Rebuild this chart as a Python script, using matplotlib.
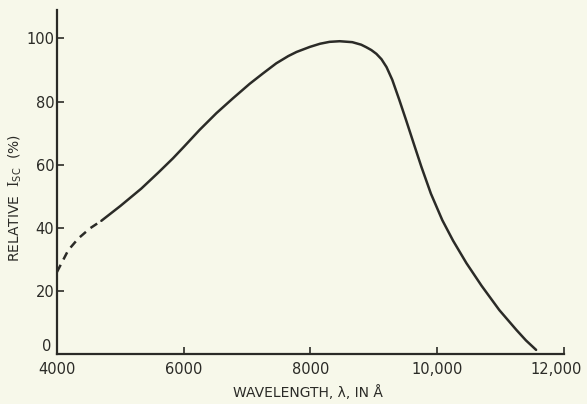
import matplotlib
matplotlib.use("Agg")
import matplotlib.pyplot as plt
from matplotlib.transforms import ScaledTranslation

# spectral response; the short-wavelength end is extrapolated (dashed)
wl_dashed = [4000, 4090, 4178, 4336, 4520, 4700]
isc_dashed = [26.0, 29.5, 32.9, 36.6, 39.8, 42.2]

wl_solid = [4700, 5000, 5330, 5600, 5830, 6000, 6250, 6515, 6770, 7040,
            7250, 7460, 7650, 7780, 7990, 8150, 8300, 8460, 8660, 8800,
            8880, 8960, 9040, 9120, 9200, 9290, 9400, 9510, 9640, 9750,
            9900, 10080, 10250, 10460, 10700, 10980, 11250, 11400, 11560]
isc_solid = [42.2, 46.9, 52.4, 57.5, 62.0, 65.6, 71.0, 76.3, 80.9, 85.6,
             88.9, 92.1, 94.4, 95.7, 97.3, 98.3, 98.9, 99.1, 98.8, 98.0,
             97.2, 96.3, 95.1, 93.4, 90.9, 86.9, 80.6, 74.0, 66.0, 59.3,
             50.8, 42.4, 35.9, 28.8, 21.6, 13.9, 7.6, 4.3, 1.3]

xticks = [4000, 6000, 8000, 10000, 12000]
xlabels = ["4000", "6000", "8000", "10,000", "12,000"]
yticks = [0, 20, 40, 60, 80, 100]

paper = "#f7f8ea"
ink = "#2b2b27"

plt.rcParams["mathtext.fontset"] = "custom"
plt.rcParams["mathtext.rm"] = "DejaVu Serif"
plt.rcParams["mathtext.sf"] = "DejaVu Sans"

fig = plt.figure(figsize=(5.87, 4.04), dpi=100, facecolor=paper)
ax = fig.add_axes([0.0971, 0.1238, 0.8637, 0.8515])
ax.set_facecolor(paper)

ax.plot(wl_dashed, isc_dashed, color=ink, lw=1.8, ls=(0, (3.2, 2.4)))
ax.plot(wl_solid, isc_solid, color=ink, lw=1.8,
        solid_capstyle="round", solid_joinstyle="round")

ax.set_xlim(4000, 12000)
ax.set_ylim(0, 109)
ax.spines["top"].set_visible(False)
ax.spines["right"].set_visible(False)
for s in ("left", "bottom"):
    ax.spines[s].set_color(ink)
    ax.spines[s].set_linewidth(1.6)

ax.set_xticks(xticks, xlabels)
ax.set_yticks(yticks)
ax.tick_params(direction="in", length=5, width=1.2, color=ink,
               labelcolor=ink, labelsize=10.5)
ax.tick_params(axis="x", pad=6)
ax.tick_params(axis="y", pad=2)

# the zero sits in the corner above the 4000
zero = ax.get_yticklabels()[0]
zero.set_va("bottom")
zero.set_transform(zero.get_transform() +
                   ScaledTranslation(-2 / 72, 0, fig.dpi_scale_trans))
last = ax.get_xticklabels()[-1]
last.set_transform(last.get_transform() +
                   ScaledTranslation(-6 / 72, 0, fig.dpi_scale_trans))

fig.text(0.026, 0.51, r"RELATIVE  $\mathrm{I}_{\mathsf{SC}}$  (%)", rotation=90,
         ha="center", va="center", fontsize=10, color=ink)
fig.text(0.525, 0.028, "WAVELENGTH, λ, IN Å", ha="center", va="center",
         fontsize=10, color=ink)

fig.savefig("out.png", dpi=100, facecolor=paper)
